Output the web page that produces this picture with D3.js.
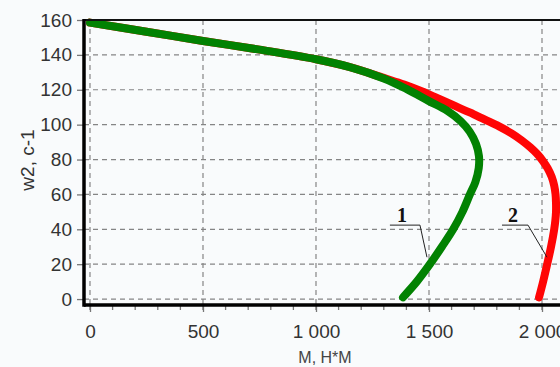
<!DOCTYPE html>
<html>
<head>
<meta charset="utf-8">
<script src="https://cdn.jsdelivr.net/npm/d3@7"></script>
<style>
  html, body { margin: 0; padding: 0; background: #f9fbfc; }
  svg { display: block; }
</style>
</head>
<body>
<svg id="chart" width="560" height="367"></svg>
<script>
// ---- data (M, N*m ; w2, s^-1) ----
const greenM = [0, 250, 500, 750, 1000, 1150, 1300, 1400, 1500, 1580, 1640, 1680, 1708, 1721, 1720, 1705, 1681, 1648, 1607, 1557, 1504, 1446, 1385];
const greenW = [158.5, 153.3, 148, 143, 137.5, 133, 126.5, 120.5, 113.5, 108, 102, 96, 89, 82, 75, 67, 60, 50, 40, 30, 20, 10, 1];
const redM = [0, 250, 500, 750, 1000, 1150, 1300, 1390, 1470, 1540, 1610, 1680, 1745, 1810, 1865, 1910, 1948, 1980, 2005, 2025, 2043, 2054, 2060, 2062, 2062, 2059, 2054, 2040, 2023, 2005, 1987];
const redW = [158.5, 153.3, 148, 143, 137.5, 133, 126.8, 123, 119, 115, 111, 107, 103, 99, 95, 91, 87, 83, 79, 75, 70, 65, 60, 55, 50, 45, 40, 30, 20, 10, 1];
const xTicks = [0, 500, 1000, 1500, 2000];
const xMinorTicks = d3.range(0, 2300, 100);
const yTicks = [0, 20, 40, 60, 80, 100, 120, 140, 160];
const xTitle = "M, H*M";
const yTitle = "w2, c-1";
const annLabels = ["1", "2"];
const annTextM = [1381, 1872];
const annLineM0 = [1327, 1823];
const annLineM1 = [1460, 1938];
const annLineW = [42.4, 42.4];
const annTipM = [1491, 2022];
const annTipW = [24, 24];

// ---- layout ----
const svg = d3.select("#chart");
svg.append("rect").attr("width", 560).attr("height", 367).attr("fill", "#f9fbfc");

const x = d3.scaleLinear().domain([-26.5, 2250]).range([84, 598.5]);
const y = d3.scaleLinear().domain([-3.4, 160]).range([305, 20]);

const fmt = d3.formatLocale({ decimal: ".", thousands: "\u00a0", grouping: [3], currency: ["", ""] }).format(",d");

// grid
const grid = svg.append("g").attr("stroke", "#858585").attr("stroke-width", 1.2).attr("stroke-dasharray", "5,4");
grid.selectAll("line.h").data(yTicks).join("line")
  .attr("x1", x(-26.5)).attr("x2", 560)
  .attr("y1", d => y(d)).attr("y2", d => y(d));
grid.selectAll("line.v").data(xTicks).join("line")
  .attr("x1", d => x(d)).attr("x2", d => x(d))
  .attr("y1", y(160)).attr("y2", y(-3.4));

// curves
const line = d3.line().x(d => x(d[0])).y(d => y(d[1])).curve(d3.curveCatmullRom.alpha(0.5));
const redPts = redM.map((m, i) => [m, redW[i]]);
const greenPts = greenM.map((m, i) => [m, greenW[i]]);
svg.append("path").datum(redPts).attr("d", line)
  .attr("fill", "none").attr("stroke", "#ff0505").attr("stroke-width", 8).attr("stroke-linecap", "round");
svg.append("path").datum(greenPts).attr("d", line)
  .attr("fill", "none").attr("stroke", "#028202").attr("stroke-width", 8).attr("stroke-linecap", "round");

// frame
svg.append("line").attr("x1", x(-26.5)).attr("x2", 560).attr("y1", y(160)).attr("y2", y(160))
  .attr("stroke", "#111").attr("stroke-width", 2);

// axes
const xAxis = d3.axisBottom(x).tickValues(xTicks).tickFormat(fmt).tickSizeInner(7).tickSizeOuter(0).tickPadding(13);
const gx = svg.append("g").attr("transform", `translate(0,${y(-3.4)})`).call(xAxis);
gx.select(".domain").remove();
gx.selectAll(".tick line").attr("stroke", "#777").attr("stroke-width", 1.3);
gx.selectAll(".tick text").attr("font-family", "Arial, 'Liberation Sans', sans-serif").attr("font-size", 19).attr("fill", "#333");
gx.selectAll("line.minor").data(xMinorTicks).join("line").attr("class", "minor")
  .attr("x1", d => x(d)).attr("x2", d => x(d)).attr("y1", 0).attr("y2", 5)
  .attr("stroke", "#777").attr("stroke-width", 1.3);

const yAxis = d3.axisLeft(y).tickValues(yTicks).tickSizeInner(7).tickSizeOuter(0).tickPadding(5);
const gy = svg.append("g").attr("transform", `translate(${x(-26.5)},0)`).call(yAxis);
gy.select(".domain").remove();
gy.selectAll(".tick line").attr("stroke", "#777").attr("stroke-width", 1.3);
gy.selectAll(".tick text").attr("font-family", "Arial, 'Liberation Sans', sans-serif").attr("font-size", 19).attr("fill", "#333");

// axis lines
svg.append("line").attr("x1", x(-26.5)).attr("x2", 560).attr("y1", y(-3.4)).attr("y2", y(-3.4))
  .attr("stroke", "#000").attr("stroke-width", 3.5);
svg.append("line").attr("x1", x(-26.5)).attr("x2", x(-26.5)).attr("y1", y(160) - 1).attr("y2", y(-3.4) + 1.75)
  .attr("stroke", "#000").attr("stroke-width", 3.5);

// titles
svg.append("text").attr("x", 325).attr("y", 363).attr("text-anchor", "middle")
  .attr("font-family", "Arial, 'Liberation Sans', sans-serif").attr("font-size", 16).attr("fill", "#444")
  .text(xTitle);
svg.append("text").attr("transform", "translate(34,160) rotate(-90)").attr("text-anchor", "middle")
  .attr("font-family", "Arial, 'Liberation Sans', sans-serif").attr("font-size", 19).attr("fill", "#333")
  .text(yTitle);

// annotations
annLabels.forEach((lab, i) => {
  const g = svg.append("g");
  g.append("text").attr("x", x(annTextM[i])).attr("y", y(annLineW[i]) - 3).attr("text-anchor", "middle")
    .attr("font-family", "'Liberation Serif', 'DejaVu Serif', serif").attr("font-weight", "bold")
    .attr("font-size", 20).attr("fill", "#111").text(lab);
  g.append("polyline")
    .attr("points", [[x(annLineM0[i]), y(annLineW[i])], [x(annLineM1[i]), y(annLineW[i])], [x(annTipM[i]), y(annTipW[i])]].map(p => p.join(",")).join(" "))
    .attr("fill", "none").attr("stroke", "#222").attr("stroke-width", 1);
});
</script>
</body>
</html>
